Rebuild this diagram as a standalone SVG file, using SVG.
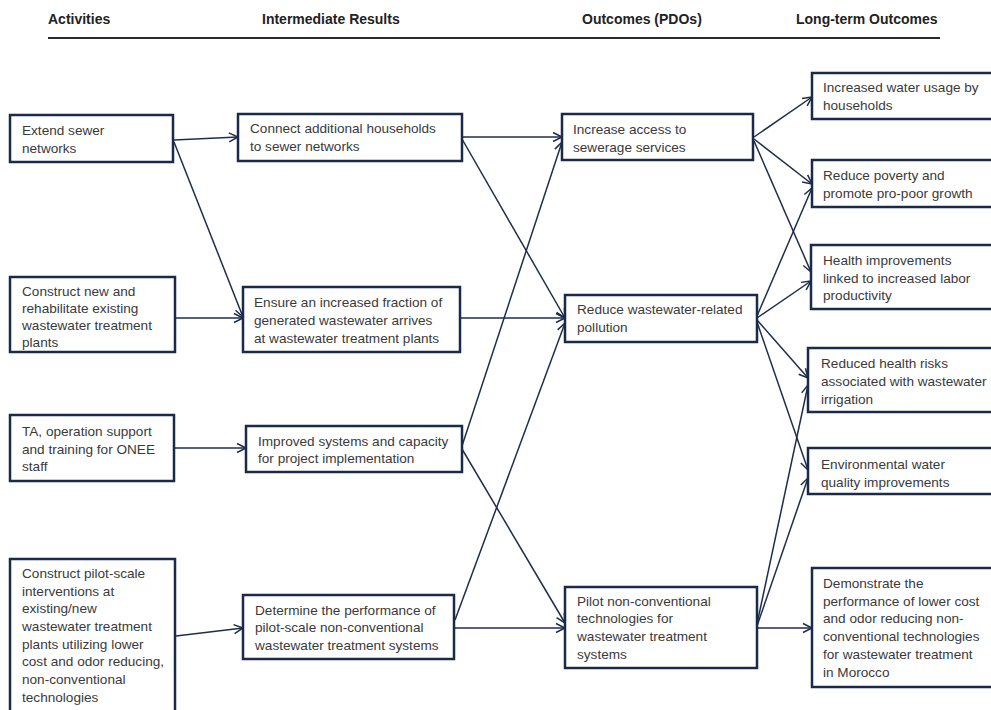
<svg xmlns="http://www.w3.org/2000/svg" width="991" height="710" viewBox="0 0 991 710">
<defs>
<style>
.bx{fill:#fff;stroke:#1b2a48;stroke-width:2.5}
.t{font-family:"Liberation Sans",Arial,sans-serif;font-size:13.6px;fill:#3a3a3a}
.h{font-family:"Liberation Sans",Arial,sans-serif;font-size:14px;font-weight:bold;fill:#222}
.c{fill:none;stroke:#1f2d4d;stroke-width:1.5;marker-end:url(#ah)}
</style>
<marker id="ah" markerUnits="userSpaceOnUse" markerWidth="12" markerHeight="12" refX="10" refY="6" orient="auto">
<path d="M1,1.5 L10,6 L1,10.5" fill="none" stroke="#1f2d4d" stroke-width="1.5"/>
</marker>
</defs>
<rect width="991" height="710" fill="#fff"/>
<g id="header">
<text class="h" x="48" y="24">Activities</text>
<text class="h" x="262" y="24">Intermediate Results</text>
<text class="h" x="582" y="24">Outcomes (PDOs)</text>
<text class="h" x="796" y="24">Long-term Outcomes</text>
<line x1="48" y1="38" x2="940" y2="38" stroke="#2a2a2a" stroke-width="2"/>
</g>
<g id="connectors">
<path class="c" d="M174,140 L238,137"/>
<path class="c" d="M174,142 L243,317"/>
<path class="c" d="M176,318 L243,318"/>
<path class="c" d="M175,448 L246,448"/>
<path class="c" d="M176,636 L243,628"/>
<path class="c" d="M462,137 L562,137"/>
<path class="c" d="M462,139 L565,318"/>
<path class="c" d="M461,318 L565,318"/>
<path class="c" d="M462,446 L562,142"/>
<path class="c" d="M462,449 L565,623"/>
<path class="c" d="M455,620 L565,323"/>
<path class="c" d="M455,628 L565,628"/>
<path class="c" d="M754,137 L812,97"/>
<path class="c" d="M754,139 L812,184"/>
<path class="c" d="M754,141 L811,272"/>
<path class="c" d="M757,316 L812,188"/>
<path class="c" d="M757,318 L811,281"/>
<path class="c" d="M757,320 L808,378"/>
<path class="c" d="M757,322 L808,470"/>
<path class="c" d="M757,624 L808,385"/>
<path class="c" d="M757,626 L808,478"/>
<path class="c" d="M757,628 L812,628"/>
</g>
<g id="A1"><rect class="bx" x="10" y="115" width="163" height="47"/>
<text class="t" x="22" y="135">Extend sewer</text><text class="t" x="22" y="153">networks</text></g>
<g id="A2"><rect class="bx" x="10" y="277" width="165" height="75"/>
<text class="t" x="22" y="296">Construct new and</text><text class="t" x="22" y="313">rehabilitate existing</text><text class="t" x="22" y="330">wastewater treatment</text><text class="t" x="22" y="347">plants</text></g>
<g id="A3"><rect class="bx" x="10" y="415" width="164" height="66"/>
<text class="t" x="22" y="436">TA, operation support</text><text class="t" x="22" y="454">and training for ONEE</text><text class="t" x="22" y="471">staff</text></g>
<g id="A4"><rect class="bx" x="10" y="559" width="165" height="160"/>
<text class="t" x="22" y="578">Construct pilot-scale</text><text class="t" x="22" y="596">interventions at</text><text class="t" x="22" y="613">existing/new</text><text class="t" x="22" y="631">wastewater treatment</text><text class="t" x="22" y="649">plants utilizing lower</text><text class="t" x="22" y="666">cost and odor reducing,</text><text class="t" x="22" y="684">non-conventional</text><text class="t" x="22" y="702">technologies</text></g>
<g id="I1"><rect class="bx" x="238" y="114" width="224" height="47"/>
<text class="t" x="250" y="133">Connect additional households</text><text class="t" x="250" y="151">to sewer networks</text></g>
<g id="I2"><rect class="bx" x="243" y="287" width="217" height="65"/>
<text class="t" x="254" y="307">Ensure an increased fraction of</text><text class="t" x="254" y="325">generated wastewater arrives</text><text class="t" x="254" y="343">at wastewater treatment plants</text></g>
<g id="I3"><rect class="bx" x="246" y="426" width="216" height="46"/>
<text class="t" x="258" y="446">Improved systems and capacity</text><text class="t" x="258" y="463">for project implementation</text></g>
<g id="I4"><rect class="bx" x="243" y="595" width="211" height="64"/>
<text class="t" x="255" y="615">Determine the performance of</text><text class="t" x="255" y="632">pilot-scale non-conventional</text><text class="t" x="255" y="650">wastewater treatment systems</text></g>
<g id="O1"><rect class="bx" x="562" y="114" width="191" height="46"/>
<text class="t" x="573" y="134">Increase access to</text><text class="t" x="573" y="152">sewerage services</text></g>
<g id="O2"><rect class="bx" x="565" y="295" width="192" height="47"/>
<text class="t" x="577" y="314">Reduce wastewater-related</text><text class="t" x="577" y="332">pollution</text></g>
<g id="O3"><rect class="bx" x="565" y="587" width="192" height="81"/>
<text class="t" x="577" y="606">Pilot non-conventional</text><text class="t" x="577" y="623">technologies for</text><text class="t" x="577" y="641">wastewater treatment</text><text class="t" x="577" y="659">systems</text></g>
<g id="L1"><rect class="bx" x="812" y="73" width="190" height="46"/>
<text class="t" x="823" y="92">Increased water usage by</text><text class="t" x="823" y="110">households</text></g>
<g id="L2"><rect class="bx" x="812" y="160" width="190" height="47"/>
<text class="t" x="823" y="180">Reduce poverty and</text><text class="t" x="823" y="198">promote pro-poor growth</text></g>
<g id="L3"><rect class="bx" x="811" y="245" width="190" height="64"/>
<text class="t" x="823" y="265">Health improvements</text><text class="t" x="823" y="283">linked to increased labor</text><text class="t" x="823" y="300">productivity</text></g>
<g id="L4"><rect class="bx" x="808" y="348" width="193" height="64"/>
<text class="t" x="821" y="368">Reduced health risks</text><text class="t" x="821" y="386">associated with wastewater</text><text class="t" x="821" y="404">irrigation</text></g>
<g id="L5"><rect class="bx" x="808" y="448" width="193" height="46"/>
<text class="t" x="821" y="469">Environmental water</text><text class="t" x="821" y="487">quality improvements</text></g>
<g id="L6"><rect class="bx" x="812" y="568" width="190" height="119"/>
<text class="t" x="823" y="588">Demonstrate the</text><text class="t" x="823" y="606">performance of lower cost</text><text class="t" x="823" y="623">and odor reducing non-</text><text class="t" x="823" y="641">conventional technologies</text><text class="t" x="823" y="659">for wastewater treatment</text><text class="t" x="823" y="677">in Morocco</text></g>
</svg>
